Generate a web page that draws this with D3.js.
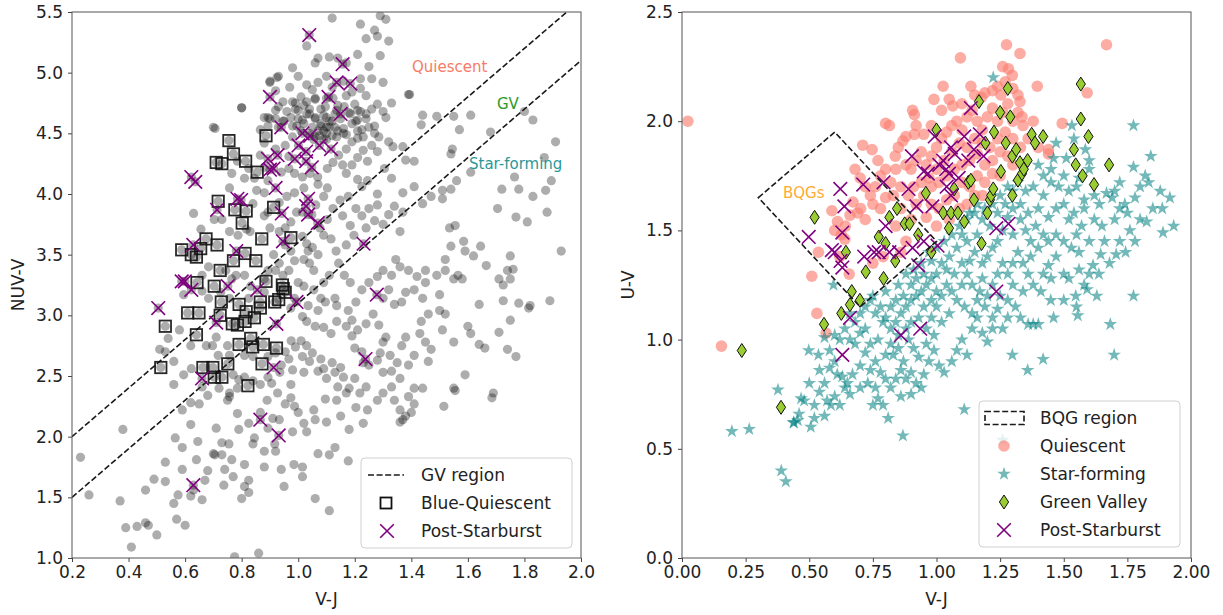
<!DOCTYPE html>
<html><head><meta charset="utf-8">
<script src="https://cdn.jsdelivr.net/npm/d3@7"></script>
<style>
body{margin:0;background:#fff;}
text{font-family:"DejaVu Sans",sans-serif;}
</style>
</head><body>
<svg id="chart" width="1223" height="615"></svg>
<script>
// ---------------- DATA ----------------
const leftXTicks = [0.2,0.4,0.6,0.8,1.0,1.2,1.4,1.6,1.8,2.0];
const leftYTicks = [1.0,1.5,2.0,2.5,3.0,3.5,4.0,4.5,5.0,5.5];
const rightXTicks = [0,0.25,0.5,0.75,1.0,1.25,1.5,1.75,2.0];
const rightYTicks = [0,0.5,1.0,1.5,2.0,2.5];

// GV region boundaries: NUV-V = slope*(V-J) + intercept
const gvSlope = 2.0;
const gvIntercepts = [1.6, 1.1];
// BQG region polygon (V-J, U-V)
const bqgRegion = [[0.3,1.65],[0.6,1.95],[1.0,1.45],[0.7,1.15]];

// Left panel: full sample (gray)
const leftGray = [
[1.12,5.45],[1.22,5.40],[1.29,5.47],[1.31,5.44],[1.27,5.35],[1.28,5.30],[1.24,5.28],[1.32,5.26],[1.03,5.22],[1.21,5.15],[1.29,5.14],[1.11,5.13],[1.07,5.12],[1.06,5.08],[1.17,5.08],[1.14,5.12],[0.98,5.04],[1.25,5.05],[1.00,4.97],[0.93,4.97],[0.90,4.93],[1.03,4.90],[1.07,4.92],[1.10,4.97],[1.16,4.93],[1.22,4.95],[1.26,4.95],[1.30,4.92],[1.39,4.82],[1.22,4.87],[1.19,4.84],[1.12,4.88],
[0.80,4.71],[0.88,4.63],[0.90,4.62],[0.93,4.72],[0.96,4.68],[0.99,4.75],[1.02,4.73],[1.06,4.78],[1.10,4.79],[1.14,4.73],[1.17,4.81],[1.20,4.74],[1.24,4.81],[1.28,4.74],[1.33,4.75],[1.31,4.63],[1.24,4.62],[1.21,4.61],[1.25,4.55],[1.27,4.50],[0.92,4.85],[0.97,4.88],[1.01,4.80],[1.05,4.86],[1.08,4.70],[1.03,4.66],[1.06,4.62],[1.09,4.65],[1.11,4.60],[1.13,4.66],[1.15,4.62],[1.18,4.67],[1.19,4.58],[1.16,4.54],[1.13,4.55],[1.10,4.55],[1.08,4.58],[1.05,4.55],[1.02,4.58],[1.00,4.62],[0.98,4.56],[0.95,4.60],[0.93,4.55],[1.07,4.52],[1.10,4.50],[1.12,4.48],[1.09,4.45],[1.06,4.47],[1.04,4.50],[1.01,4.52],[1.14,4.52],[1.17,4.49],[1.21,4.52],[1.23,4.47],[0.99,4.70],[1.04,4.70],[1.22,4.68],[1.26,4.70],[1.30,4.68],
[0.23,1.83],[0.26,1.52],[0.37,1.47],[0.39,1.25],[0.38,2.06],[0.41,1.09],[0.43,1.26],[0.46,1.29],[0.47,1.27],[0.46,1.56],[0.49,1.65],[0.50,1.19],[0.53,1.79],[0.53,1.63],[0.56,1.45],[0.57,1.32],[0.60,1.27],[0.575,1.52],[0.565,1.99],[0.56,2.43],[0.51,2.72],[0.53,2.70],[0.54,2.81],[0.59,1.91],[0.59,2.22],[0.59,1.73],
[0.62,1.51],[0.63,1.56],[0.64,1.81],[0.645,1.96],[0.66,1.48],[0.67,1.64],[0.68,1.72],[0.70,1.86],[0.705,1.85],[0.71,2.07],[0.73,1.95],[0.737,1.60],[0.74,1.73],[0.755,1.94],[0.77,1.67],[0.775,1.01],[0.785,2.19],[0.80,1.49],[0.75,2.30],[0.65,2.27],[0.66,2.41],[0.62,2.28],[0.62,2.10],[0.68,2.34],[0.72,2.40],[0.79,2.06],[0.81,1.77],[0.825,1.64],[0.825,1.54],[0.81,1.59],[0.765,1.81],[0.73,1.85],
[0.84,1.94],[0.86,1.04],[0.866,2.20],[0.88,1.75],[0.89,2.30],[0.91,2.15],[0.917,1.94],[0.94,1.73],[0.95,1.59],[0.974,2.32],[0.98,2.04],[0.985,1.77],[1.015,1.75],[1.015,1.67],[0.927,2.36],[0.906,2.44],[0.866,2.43],[0.84,2.46],[0.79,2.47],[0.757,2.33],[0.954,2.27],[0.987,2.25],[1.0,2.20],[0.933,2.14],[0.893,2.07],[0.825,2.11],[0.845,1.99],[0.92,1.88],[0.88,1.88],
[1.02,2.11],[1.03,2.04],[1.055,2.22],[1.06,2.14],[1.07,1.86],[1.096,2.31],[1.10,2.12],[1.11,1.85],[1.13,1.91],[1.11,1.39],[1.06,1.49],[1.136,2.30],[1.15,2.17],[1.17,2.36],[1.177,1.80],[1.204,2.24],[1.218,2.36],[1.24,2.41],[1.245,2.22],[1.28,2.30],[1.30,2.36],[1.34,2.30],[1.37,2.14],[1.36,2.12],[1.40,2.20],[1.38,2.17],[1.23,2.11],[1.18,2.06],
[1.01,2.79],[0.99,2.74],[1.03,2.75],[1.05,2.69],[1.08,2.64],[1.09,2.56],[1.12,2.61],[1.13,2.53],[1.15,2.57],[1.16,2.49],[1.18,2.40],[1.14,2.41],[1.10,2.48],[1.07,2.54],[1.04,2.62],[1.015,2.66],[0.975,2.79],[0.967,2.64],[0.98,2.55],[1.02,2.53],[0.935,2.53],[0.974,2.43],[1.20,2.48],[1.20,2.73],[1.225,2.70],[1.25,2.59],[1.28,2.63],[1.29,2.69],[1.30,2.78],[1.31,2.82],[1.325,2.67],[1.30,2.53],[1.33,2.54],[1.35,2.61],[1.366,2.75],[1.38,2.82],[1.41,2.67],[1.39,2.59],[1.36,2.48],[1.41,2.40],[1.33,2.41],[1.23,2.61],
[1.19,2.83],[1.21,2.88],[1.24,2.93],[1.265,3.01],[1.285,2.92],[1.19,2.96],[1.17,2.91],[1.136,2.95],[1.116,2.85],[1.09,2.90],[1.06,2.91],[1.03,2.95],[1.015,2.99],[1.07,3.04],[1.096,3.11],[1.136,3.08],[1.177,3.04],[1.204,3.11],[1.225,3.21],[1.25,3.27],[1.28,3.32],[1.30,3.37],[1.33,3.33],[1.32,3.21],[1.30,3.14],[1.34,3.09],[1.366,3.11],[1.38,3.19],[1.345,3.46],[1.36,3.40],[1.39,3.37],[1.41,3.21],[1.42,3.32],[1.45,3.37],[1.45,3.27],[1.44,3.14],[1.46,3.01],[1.435,2.95],[1.43,2.85],[1.45,2.78],[1.47,2.72],[1.46,2.62],[1.50,3.17],[1.50,3.04],[1.51,2.88],[1.52,3.01],[1.49,3.33],[1.52,3.37],[1.52,3.46],[1.535,3.72],[1.555,3.74],[1.585,3.61],[1.59,3.53],[1.54,3.57],[1.645,3.57],[1.665,3.41],[1.62,3.49],[1.565,3.33],[1.55,3.30],[1.58,3.30],[1.64,3.09],[1.60,2.91],[1.61,2.85],[1.55,2.78],[1.64,2.76],[1.66,2.73],[1.71,2.86],[1.725,3.12],[1.75,2.96],[1.71,3.30],[1.725,3.25],[1.75,3.30],[1.76,3.38],[1.74,3.37],[1.75,3.49],[1.78,3.10],[1.82,3.08],[1.815,3.06],[1.77,2.66],[1.74,2.72],[1.89,3.12],[1.93,3.53],[1.59,2.51],[1.55,2.40],[1.555,2.38],[1.515,2.25],[1.69,2.36],[1.685,2.32],[1.44,2.40],[1.39,2.33],[1.41,2.27],[1.36,2.22],
[1.394,4.82],[1.44,4.65],[1.49,4.64],[1.55,4.64],[1.61,4.65],[1.435,4.57],[1.57,4.53],[1.68,4.51],[1.80,4.68],[1.83,4.61],[1.91,4.43],[1.54,4.33],[1.545,4.37],[1.56,4.11],[1.61,4.18],[1.51,4.03],[1.54,4.04],[1.51,3.96],[1.47,3.98],[1.44,3.92],[1.41,4.06],[1.37,4.01],[1.37,3.85],[1.36,3.69],[1.34,3.90],[1.32,3.83],[1.30,3.75],[1.28,3.91],[1.32,4.43],[1.335,4.39],[1.37,4.39],[1.38,4.28],[1.41,4.27],[1.305,4.21],[1.33,4.13],[1.245,4.27],[1.245,4.11],[1.225,4.06],[1.21,4.12],[1.28,4.00],[1.27,3.78],[1.25,3.88],[1.24,3.72],[1.705,3.88],[1.72,4.04],[1.765,4.14],[1.78,4.04],[1.83,3.98],[1.875,4.03],[1.88,3.85],[1.77,3.81],[1.81,3.77],[1.87,4.30],[1.895,4.11],
[1.015,3.65],[1.03,3.59],[1.05,3.56],[1.035,3.53],[1.02,3.46],[1.04,3.43],[1.055,3.37],[1.07,3.50],[1.09,3.66],[1.077,3.72],[1.103,3.79],[1.116,3.63],[1.134,3.53],[1.143,3.43],[1.163,3.33],[1.184,3.27],[1.17,3.58],[1.197,3.66],[1.184,3.74],[1.157,3.82],[1.123,3.88],[1.148,3.95],[1.177,3.98],[1.204,3.88],[1.225,3.82],[0.974,3.53],[0.987,3.45],[1.0,3.27],[1.02,3.24],[1.055,3.21],[1.09,3.27],[1.11,3.33],[1.13,3.14],[1.08,3.14],[1.035,3.08],[0.987,3.14],[0.974,3.06],[0.967,3.37],[0.946,3.33],[0.92,3.37],[0.893,3.37],[0.88,3.30],[0.913,3.50],[0.933,3.43],[0.954,3.58],[0.974,3.77],[0.954,3.72],[0.933,3.69],[0.994,3.85],[1.015,3.85],[1.048,3.83],[1.062,3.91],[1.09,3.98],[1.103,4.05],[1.07,4.08],[1.02,4.05],[0.987,4.01],[0.96,3.98],[0.933,3.93],[0.893,3.85],[0.88,3.82],[0.90,3.72],[0.83,3.69],[0.817,3.71],[0.84,3.92],[0.853,4.03],[0.88,4.01],[0.893,4.11],[0.845,4.13],[0.825,4.21],[0.81,4.13],[0.866,4.32],[0.88,4.22],[0.92,4.37],[0.954,4.40],[0.98,4.47],[0.967,4.31],[0.94,4.18],[0.967,4.21],[0.987,4.17],[1.015,4.14],[1.042,4.17],[1.069,4.14],[1.103,4.21],[1.123,4.26],[1.143,4.32],[1.157,4.24],[1.17,4.17],[1.19,4.24],[1.21,4.30],[1.17,4.37],[1.19,4.43],[1.21,4.46],[1.16,4.50],[1.136,4.47],[1.10,4.45],[1.08,4.56],[1.10,4.63],[1.12,4.60],[1.11,4.55],[1.09,4.52],[1.075,4.48],[1.055,4.45],[1.06,4.63],[1.04,4.66],[1.015,4.61],[0.995,4.56],[0.974,4.63],[0.946,4.60],[0.92,4.62],[0.893,4.56],[0.866,4.53],[1.136,4.69],[1.163,4.72],[1.184,4.66],[1.204,4.60],[1.225,4.53],[1.24,4.66],[1.21,4.69],[1.27,4.56],[1.285,4.47],[1.26,4.40],[1.28,4.35],[1.23,4.36],[0.98,4.76],[1.0,4.69],[1.03,4.76],[1.06,4.79],[1.096,4.72],[1.123,4.79],[0.946,4.76],[0.92,4.69],[0.893,4.63],[0.88,4.42],
[0.70,4.55],[0.80,4.71],[0.785,4.27],[0.765,4.17],[0.757,4.05],[0.73,3.79],[0.703,3.79],[0.757,3.69],[0.787,3.66],[0.656,3.71],[0.63,3.84],[0.744,3.37],[0.765,3.30],[0.78,3.33],[0.683,3.40],[0.66,3.33],[0.595,3.17],[0.66,3.20],[0.683,3.14],[0.726,3.19],[0.757,3.14],[0.825,3.14],[0.832,3.24],[0.81,3.33],[0.88,3.19],[0.58,2.88],[0.62,2.75],[0.675,2.75],[0.71,2.82],[0.697,2.75],[0.75,2.75],[0.757,2.67],[0.717,2.67],[0.81,2.67],[0.84,2.66],[0.893,2.66],[0.92,2.69],[0.954,2.70],[0.56,2.62],[0.595,2.51],[0.622,2.56],[0.77,2.51],[0.81,2.49],[0.785,2.40],[0.757,2.36],[0.893,2.49],[0.94,2.59],[0.706,4.54],[0.90,4.92],[0.925,4.96]
];

// Left panel: Blue-Quiescent galaxies
const blueQuiescent = [
[0.755,4.44],[0.886,4.48],[0.771,4.33],[0.710,4.26],[0.730,4.25],[0.814,4.27],[0.855,4.18],[0.717,3.94],[0.776,3.87],[0.816,3.86],[0.802,3.76],[0.913,3.89],[0.974,3.64],[0.871,3.63],[0.674,3.63],[0.713,3.58],[0.588,3.54],[0.622,3.50],[0.640,3.48],[0.655,3.55],[0.812,3.51],[0.771,3.45],[0.850,3.45],[0.642,3.27],[0.724,3.37],[0.703,3.24],[0.886,3.28],[0.944,3.25],[0.954,3.19],[0.931,3.13],[0.947,3.22],[0.728,3.11],[0.791,3.09],[0.866,3.11],[0.609,3.02],[0.649,3.02],[0.724,3.00],[0.816,3.03],[0.866,3.06],[0.917,3.11],[0.845,2.98],[0.767,2.93],[0.785,2.92],[0.812,2.95],[0.530,2.91],[0.640,2.84],[0.791,2.76],[0.832,2.81],[0.839,2.74],[0.877,2.76],[0.923,2.73],[0.514,2.57],[0.663,2.57],[0.698,2.57],[0.751,2.60],[0.703,2.49],[0.730,2.49],[0.872,2.60],[0.822,2.42]
];

// Left panel: Post-Starburst galaxies
const psbLeft = [
[1.039,5.31],[1.157,5.07],[1.136,4.92],[1.184,4.91],[1.107,4.80],[0.900,4.80],[1.150,4.66],[0.940,4.55],[1.015,4.50],[1.042,4.48],[1.001,4.40],[1.075,4.40],[1.116,4.37],[1.028,4.35],[0.893,4.29],[0.927,4.32],[0.988,4.29],[1.028,4.27],[1.048,4.22],[0.913,4.21],[0.900,4.20],[0.622,4.14],[0.636,4.10],[0.920,4.05],[0.785,3.96],[0.798,3.95],[1.035,3.96],[1.028,3.90],[0.713,3.87],[0.942,3.84],[1.035,3.83],[1.069,3.76],[0.946,3.61],[1.231,3.59],[0.629,3.58],[0.781,3.53],[0.588,3.28],[0.599,3.28],[0.622,3.21],[0.751,3.24],[0.855,3.21],[1.278,3.17],[0.994,3.11],[0.505,3.06],[0.710,2.94],[0.923,2.93],[0.913,2.57],[1.238,2.64],[0.660,2.48],[0.866,2.14],[0.931,2.01],[0.629,1.60]
];

// Right panel: Quiescent
const quiescent = [
[0.023,2.00],[0.155,0.97],[0.51,1.29],[0.53,1.12],[0.566,1.03],[0.536,1.40],[0.589,1.59],[0.611,1.54],[0.642,1.52],[0.626,1.48],[0.657,1.30],[0.672,1.63],[0.702,1.60],[0.71,1.89],[0.747,1.87],[0.77,1.82],[0.80,1.99],[0.815,1.98],[0.838,1.84],[0.868,1.91],[0.906,2.05],[0.913,2.03],[0.92,1.98],[0.913,1.94],[0.95,1.94],[0.98,1.98],[1.026,2.16],[1.094,2.29],[1.064,2.07],[1.10,2.08],[1.135,2.16],[1.177,2.11],[1.19,2.13],[1.22,2.14],[1.253,2.12],[1.275,2.35],[1.283,2.24],[1.26,2.25],[1.328,2.31],[1.298,2.21],[1.32,2.12],[1.328,2.09],[1.336,2.02],[1.396,2.16],[1.44,1.87],[1.494,1.99],[1.592,2.13],[1.668,2.35],
[0.68,1.78],[0.70,1.74],[0.72,1.70],[0.74,1.66],[0.76,1.70],[0.78,1.75],[0.80,1.78],[0.82,1.72],[0.75,1.62],[0.78,1.60],[0.80,1.65],[0.83,1.66],[0.86,1.70],[0.69,1.58],[0.72,1.55],[0.66,1.57],[0.64,1.46],[0.60,1.50],[0.62,1.38],[0.75,1.35],[0.86,1.40],[0.79,1.38],[0.88,1.45],
[0.88,1.80],[0.90,1.78],[0.92,1.82],[0.94,1.86],[0.96,1.80],[0.98,1.84],[1.00,1.88],[1.02,1.92],[1.04,1.95],[1.06,1.98],[1.08,2.00],[1.10,1.96],[1.12,2.02],[1.14,2.05],[1.16,2.00],[1.18,1.96],[1.20,2.02],[1.22,2.06],[1.24,2.00],[1.26,2.04],[1.28,2.08],[1.30,2.00],[1.32,2.04],[1.34,1.98],[1.30,1.92],[1.27,1.95],[1.24,1.92],[1.21,1.88],[1.18,1.90],[1.15,1.92],[1.12,1.88],[1.09,1.90],[1.06,1.86],[1.03,1.82],[1.00,1.78],[0.97,1.74],[0.94,1.72],[0.91,1.70],[0.89,1.66],[0.92,1.62],[0.95,1.66],[0.98,1.70],[1.01,1.72],[1.04,1.75],[1.07,1.78],[1.10,1.80],[1.13,1.82],[1.16,1.85],[1.19,1.80],[1.22,1.82],[1.25,1.86],[1.28,1.84],[1.22,1.76],[1.19,1.72],[1.16,1.75],[1.13,1.70],[1.10,1.72],[1.07,1.66],[1.04,1.64],[1.01,1.60],[0.98,1.62],[0.96,1.56],[1.00,1.52],[1.05,1.55],[1.09,1.60],[1.12,1.62],[1.15,1.66],[1.18,1.66],[1.25,1.75],[1.30,1.80],[1.33,1.88],[1.36,1.92],[1.38,2.00],[1.02,2.05],[0.99,2.10],[1.05,2.10],[1.15,2.12],[1.24,2.16],[1.27,2.18],[1.30,2.15],[0.88,1.93],[0.85,1.88],[0.84,1.78],[0.86,1.60],[0.90,1.55],[0.84,1.52],[1.40,1.88],[1.44,1.85]
];

// Right panel: Star-forming
const starForming = [
[0.196,0.58],[0.264,0.59],[0.377,0.77],[0.39,0.40],[0.408,0.35],[0.438,0.62],[0.455,0.63],[0.468,0.73],[0.498,0.95],[0.506,0.60],[0.52,0.64],[0.536,0.93],[0.54,0.76],[0.56,0.80],[0.57,0.72],[0.585,0.70],[0.60,0.74],[0.58,0.87],[0.61,0.84],[0.63,0.83],[0.65,0.80],[0.67,0.84],[0.64,0.78],[0.56,1.01],[0.595,1.25],[0.62,1.00],[0.66,1.00],[0.68,0.98],[0.70,1.03],[0.72,0.94],[0.70,0.88],[0.74,0.86],[0.76,0.90],[0.78,0.85],[0.80,0.82],[0.82,0.78],[0.84,0.82],[0.86,0.86],[0.88,0.82],[0.90,0.85],[0.92,0.80],[0.95,0.84],[0.97,0.90],[0.77,0.73],[0.79,0.70],[0.81,0.64],[0.75,0.70],[0.868,0.56],[0.87,0.90],[0.83,0.93],[0.85,0.96],[0.89,1.00],[0.91,0.96],[0.93,0.92],[0.96,0.98],[0.99,0.95],[1.01,0.88],[1.03,0.85],[1.06,0.90],[1.08,0.95],[1.10,1.00],[1.109,0.68],[1.12,0.93],[1.14,1.05],[1.16,1.10],[1.18,1.03],[1.20,0.99],[1.22,1.10],[1.24,1.14],[1.298,0.93],[1.26,0.54],[1.358,0.86],[1.419,0.91],[1.36,1.07],[1.38,1.07],[1.40,1.07],[1.449,1.18],[1.547,1.20],[1.555,1.11],[1.592,1.23],[1.638,1.30],[1.615,1.34],[1.645,1.39],[1.683,1.07],[1.698,0.93],[1.774,1.20],[1.706,1.39],[1.743,1.40],[1.78,1.45],[1.826,1.54],[1.89,1.49],[1.932,1.52],[1.917,1.65],[1.879,1.68],[1.887,1.60],[1.842,1.84],[1.774,1.98],[1.834,1.72],[1.774,1.79],[1.72,1.72],[1.668,1.67],[1.69,1.65],[1.72,1.60],[1.74,1.62],[1.62,1.66],[1.58,1.64],[1.532,1.98],[1.585,1.87],[1.51,1.83],[1.46,1.83],[1.223,2.20],[1.60,1.78],[1.56,1.74],[1.52,1.68],[1.50,1.62],[1.54,1.58],[1.48,1.70],[1.45,1.72],[1.42,1.66],[1.40,1.60],[1.44,1.56],[1.47,1.48],[1.50,1.45],[1.53,1.42],[1.56,1.40],[1.60,1.45],[1.65,1.52],[1.70,1.55],[1.75,1.58],[1.78,1.65],[1.80,1.70],[1.82,1.75],[1.66,1.45],[1.57,1.52],[1.47,1.38],[1.44,1.34],[1.42,1.30],[1.45,1.28],[1.50,1.30],[1.40,1.42],[1.37,1.45],[1.35,1.50],[1.33,1.55],[1.30,1.60],[1.28,1.56],[1.26,1.50],[1.24,1.45],[1.22,1.42],[1.20,1.38],[1.18,1.35],[1.15,1.40],[1.12,1.45],[1.10,1.48],[1.08,1.42],[1.05,1.38],[1.02,1.35],[1.00,1.30],[0.98,1.28],[0.96,1.25],[0.94,1.22],[0.92,1.20],[0.90,1.18],[0.88,1.15],[0.86,1.12],[0.84,1.08],[0.82,1.05],[0.80,1.10],[0.78,1.15],[0.76,1.12],[0.74,1.18],[0.72,1.15],[0.70,1.12],[0.75,1.20],[0.80,1.22],[0.85,1.25],[0.88,1.30],[0.91,1.32],[0.94,1.35],[0.97,1.40],[1.00,1.42],[1.03,1.45],[1.06,1.48],[1.09,1.52],[1.12,1.55],[1.15,1.58],[1.18,1.55],[1.21,1.52],[1.24,1.58],[1.27,1.62],[1.30,1.68],[1.33,1.62],[1.36,1.58],[1.39,1.52],[1.42,1.48],[1.30,1.48],[1.32,1.40],[1.34,1.35],[1.36,1.30],[1.38,1.25],[1.34,1.22],[1.30,1.25],[1.28,1.30],[1.26,1.35],[1.24,1.30],[1.22,1.25],[1.20,1.20],[1.17,1.22],[1.14,1.25],[1.12,1.30],[1.10,1.35],[1.07,1.30],[1.04,1.25],[1.02,1.20],[1.00,1.15],[0.98,1.10],[0.96,1.05],[0.99,1.02],[1.02,1.08],[1.05,1.12],[1.08,1.18],[1.11,1.15],[1.14,1.12],[1.16,1.18],[1.19,1.15],[1.22,1.05],[1.25,1.20],[1.28,1.18],[1.31,1.15],[1.33,1.10],[1.28,1.10],[1.26,1.05],[1.30,1.35],[1.37,1.38],[1.41,1.22],[1.44,1.45],[1.47,1.60],[1.52,1.55],[1.55,1.48],[1.58,1.60],[1.62,1.55],[1.63,1.20],[1.58,1.25],[1.52,1.28],[1.56,1.32],[1.18,1.28],[1.16,1.48],[1.13,1.36],[1.10,1.25],[1.06,1.22],[1.04,1.32],[0.98,1.36],[0.95,1.30],[0.92,1.28],[0.90,1.25],[0.87,1.20],[0.84,1.18],[0.82,1.15],[0.79,1.08],[0.77,1.00],[0.74,0.98],[0.72,1.05],[0.68,1.08],[0.66,1.12],[0.60,1.02],[0.64,1.05],[0.58,0.95],[0.60,0.90],[0.54,0.86],[0.50,0.80],[0.48,0.72],[0.46,0.66],[0.44,0.62],[0.52,0.70],[0.56,0.65],[0.62,0.70],[0.66,0.75],[0.70,0.78],[0.73,0.80],[0.76,0.78],[0.86,0.74],[0.90,0.75],[0.94,0.78],[0.80,0.93],[0.82,0.98],[0.85,1.02],[0.88,1.05],[0.90,1.08],[0.93,1.10],[0.95,1.15],[0.98,1.18],[1.00,1.22],[1.46,1.10],[1.50,1.18],[1.55,1.15],[1.60,1.30],[1.68,1.35],[1.72,1.45],[1.76,1.50],[1.80,1.55],[1.85,1.60],[1.70,1.68],[1.64,1.62],[1.55,1.70],[1.50,1.75],[1.45,1.78],[1.42,1.75],[1.38,1.70],[1.35,1.68],[1.40,1.80],[1.47,1.90],[1.54,1.92],[1.60,1.82],[1.32,1.72],[1.28,1.70],[1.25,1.66],[1.22,1.62],[1.19,1.60],[1.16,1.62],[1.13,1.58]
];

// Right panel: Green Valley
const greenValley = [
[0.235,0.95],[0.389,0.69],[0.521,1.56],[0.558,1.07],[0.626,1.12],[0.644,1.40],[0.66,1.16],[0.667,1.22],[0.699,1.18],[0.722,1.31],[0.773,1.47],[0.792,1.28],[0.80,1.44],[0.815,1.56],[0.845,1.60],[0.838,1.36],[0.875,1.53],[0.894,1.53],[0.928,1.48],[0.958,1.67],[0.98,1.40],[1.0,1.96],[1.026,1.58],[1.049,1.51],[1.057,1.58],[1.069,1.69],[1.084,1.58],[1.109,1.54],[1.125,1.72],[1.135,1.73],[1.147,1.64],[1.167,2.09],[1.177,1.44],[1.192,1.90],[1.20,1.58],[1.21,1.64],[1.215,1.66],[1.223,1.69],[1.226,1.95],[1.25,2.04],[1.253,1.77],[1.272,1.90],[1.28,2.15],[1.29,2.02],[1.298,1.84],[1.298,1.66],[1.313,1.87],[1.32,1.73],[1.328,1.81],[1.336,1.76],[1.343,1.78],[1.358,1.82],[1.374,1.94],[1.387,1.90],[1.419,1.93],[1.54,1.87],[1.547,1.80],[1.567,2.17],[1.567,2.01],[1.574,1.75],[1.597,1.93],[1.619,1.71],[1.678,1.80]
];

// Right panel: Post-Starburst
const psbRight = [
[0.498,1.47],[0.589,1.41],[0.60,1.40],[0.622,1.69],[0.638,1.61],[0.63,1.49],[0.623,1.36],[0.63,1.33],[0.63,0.93],[0.66,1.10],[0.712,1.71],[0.716,1.38],[0.755,1.40],[0.773,1.40],[0.792,1.72],[0.80,1.52],[0.815,1.40],[0.853,1.40],[0.86,1.02],[0.903,1.84],[0.906,1.42],[0.928,1.34],[0.936,1.05],[0.921,1.61],[0.89,1.69],[0.95,1.77],[0.966,1.76],[0.984,1.61],[0.95,1.45],[1.004,1.43],[0.993,1.93],[1.011,1.80],[1.026,1.82],[1.038,1.78],[1.049,1.76],[1.057,1.88],[1.072,1.85],[1.087,1.74],[1.109,1.93],[1.125,1.82],[1.135,2.06],[1.147,1.87],[1.17,1.94],[1.185,1.84],[1.235,1.22],[1.235,1.51],[1.283,1.53],[1.04,1.70],[1.057,1.66]
];

// ---------------- DRAW ----------------
const svg = d3.select("#chart");
svg.append("rect").attr("width",1223).attr("height",615).attr("fill","#fff");

const FONT = 17;
const DASH = "6,2.6";
const panels = {
  left:{x0:72,x1:581,y0:12,y1:558},
  right:{x0:682,x1:1191,y0:12,y1:558}
};

const xL = d3.scaleLinear().domain([0.2,2.0]).range([panels.left.x0,panels.left.x1]);
const yL = d3.scaleLinear().domain([1.0,5.5]).range([panels.left.y1,panels.left.y0]);
const xR = d3.scaleLinear().domain([0,2]).range([panels.right.x0,panels.right.x1]);
const yR = d3.scaleLinear().domain([0,2.5]).range([panels.right.y1,panels.right.y0]);

function clip(id,p){
  svg.append("clipPath").attr("id",id).append("rect")
    .attr("x",p.x0).attr("y",p.y0).attr("width",p.x1-p.x0).attr("height",p.y1-p.y0);
}
clip("clipL",panels.left); clip("clipR",panels.right);

function crossPath(cx,cy,s){return `M${cx-s},${cy-s}L${cx+s},${cy+s}M${cx-s},${cy+s}L${cx+s},${cy-s}`;}

// ----- Left panel -----
const gL = svg.append("g").attr("clip-path","url(#clipL)");
const allGray = leftGray.concat(blueQuiescent, psbLeft);
gL.selectAll("circle.g").data(allGray).join("circle")
  .attr("cx",d=>xL(d[0])).attr("cy",d=>yL(d[1])).attr("r",4.6)
  .attr("fill","#000").attr("fill-opacity",0.32);

// GV lines
gvIntercepts.forEach(b=>{
  const xs=[0.2,2.0];
  gL.append("path").attr("d",d3.line()(xs.map(x=>[xL(x),yL(gvSlope*x+b)])))
    .attr("stroke","#1a1a1a").attr("stroke-width",1.6).attr("stroke-dasharray",DASH).attr("fill","none");
});

gL.selectAll("rect.bq").data(blueQuiescent).join("rect")
  .attr("x",d=>xL(d[0])-5.7).attr("y",d=>yL(d[1])-5.7).attr("width",11.4).attr("height",11.4)
  .attr("fill","none").attr("stroke","#111").attr("stroke-width",1.8).attr("stroke-opacity",0.9);

gL.selectAll("path.psb").data(psbLeft).join("path")
  .attr("d",d=>crossPath(xL(d[0]),yL(d[1]),6.8))
  .attr("stroke","#800080").attr("stroke-width",1.6).attr("fill","none");

// ----- Right panel -----
const gR = svg.append("g").attr("clip-path","url(#clipR)");
gR.selectAll("circle.q").data(quiescent).join("circle")
  .attr("cx",d=>xR(d[0])).attr("cy",d=>yR(d[1])).attr("r",5.8)
  .attr("fill","#fa8072").attr("fill-opacity",0.65);

const star = d3.symbol().type(d3.symbolStar).size(58);
gR.selectAll("path.sf").data(starForming).join("path")
  .attr("d",star).attr("transform",d=>`translate(${xR(d[0])},${yR(d[1])})`)
  .attr("fill","#008080").attr("fill-opacity",0.55);

function diamond(cx,cy){return `M${cx},${cy-7}L${cx+4.6},${cy}L${cx},${cy+7}L${cx-4.6},${cy}Z`;}
gR.selectAll("path.gv").data(greenValley).join("path")
  .attr("d",d=>diamond(xR(d[0]),yR(d[1])))
  .attr("fill","#9acd32").attr("stroke","#111").attr("stroke-width",1);

gR.selectAll("path.psbR").data(psbRight).join("path")
  .attr("d",d=>crossPath(xR(d[0]),yR(d[1]),6.8))
  .attr("stroke","#800080").attr("stroke-width",1.6).attr("fill","none");

gR.append("path")
  .attr("d",d3.line()(bqgRegion.map(p=>[xR(p[0]),yR(p[1])]))+"Z")
  .attr("stroke","#1a1a1a").attr("stroke-width",1.6).attr("stroke-dasharray",DASH).attr("fill","none");

// ----- Axes -----
function drawAxes(p,xs,ys,xt,yt,xfmt,yfmt,xlabel,ylabel,ylabelX){
  const ax = svg.append("g").attr("transform",`translate(0,${p.y1})`)
    .call(d3.axisBottom(xs).tickValues(xt).tickFormat(d3.format(xfmt)).tickSizeOuter(0).tickSize(4).tickPadding(4));
  const ay = svg.append("g").attr("transform",`translate(${p.x0},0)`)
    .call(d3.axisLeft(ys).tickValues(yt).tickFormat(d3.format(yfmt)).tickSizeOuter(0).tickSize(4).tickPadding(5));
  [ax,ay].forEach(a=>{
    a.select(".domain").remove();
    a.selectAll("line").attr("stroke","#444");
    a.selectAll("text").attr("font-size",FONT).attr("fill","#222").attr("font-family","DejaVu Sans");
  });
  svg.append("rect").attr("x",p.x0).attr("y",p.y0).attr("width",p.x1-p.x0).attr("height",p.y1-p.y0)
    .attr("fill","none").attr("stroke","#555").attr("stroke-width",1);
  svg.append("text").attr("x",(p.x0+p.x1)/2).attr("y",605).attr("text-anchor","middle")
    .attr("font-size",FONT).attr("fill","#222").text(xlabel);
  svg.append("text").attr("transform",`translate(${ylabelX},${(p.y0+p.y1)/2}) rotate(-90)`)
    .attr("text-anchor","middle").attr("dy","0.35em").attr("font-size",FONT).attr("fill","#222").text(ylabel);
}
drawAxes(panels.left,xL,yL,leftXTicks,leftYTicks,".1f",".1f","V-J","NUV-V",18);
drawAxes(panels.right,xR,yR,rightXTicks,rightYTicks,".2f",".1f","V-J","U-V",628);

// ----- Annotations -----
function label(x,y,t,c,fs){svg.append("text").attr("x",x).attr("y",y).attr("dy","0.35em").attr("font-size",fs).attr("fill",c).text(t);}
label(412,67,"Quiescent","#f77b66",15);
label(497,104,"GV","#2a9a2a",15);
label(469,164,"Star-forming","#2a9898",15);
label(783,193,"BQGs","#ffaa33",15);

// ----- Legends -----
function legendBox(x,y,w,h){
  svg.append("rect").attr("x",x).attr("y",y).attr("width",w).attr("height",h).attr("rx",4)
    .attr("fill","#fff").attr("fill-opacity",0.8).attr("stroke","#d0d0d0").attr("stroke-width",1);
}
legendBox(361,458,211,90);
const legL = [
  {label:"GV region",type:"line",y:475},
  {label:"Blue-Quiescent",type:"square",y:503},
  {label:"Post-Starburst",type:"cross",y:531}
];
legL.forEach(e=>{
  if(e.type==="line") svg.append("line").attr("x1",368).attr("x2",404).attr("y1",e.y).attr("y2",e.y)
     .attr("stroke","#1a1a1a").attr("stroke-width",1.6).attr("stroke-dasharray",DASH);
  if(e.type==="square") svg.append("rect").attr("x",380.5).attr("y",e.y-5.5).attr("width",11).attr("height",11)
     .attr("fill","none").attr("stroke","#111").attr("stroke-width",1.8);
  if(e.type==="cross") svg.append("path").attr("d",crossPath(387,e.y,6.8)).attr("stroke","#800080").attr("stroke-width",1.6);
  svg.append("text").attr("x",421).attr("y",e.y).attr("dy","0.35em").attr("font-size",FONT).attr("fill","#222").text(e.label);
});

legendBox(979,401,201,146);
const legR = [
  {label:"BQG region",type:"rect",y:418},
  {label:"Quiescent",type:"circle",y:446},
  {label:"Star-forming",type:"star",y:474},
  {label:"Green Valley",type:"diamond",y:502},
  {label:"Post-Starburst",type:"cross",y:530}
];
legR.forEach(e=>{
  const mx=1004;
  if(e.type==="rect") svg.append("rect").attr("x",985).attr("y",e.y-6.5).attr("width",39).attr("height",13)
     .attr("fill","none").attr("stroke","#1a1a1a").attr("stroke-width",1.6).attr("stroke-dasharray",DASH);
  if(e.type==="circle") svg.append("circle").attr("cx",mx).attr("cy",e.y).attr("r",5.8).attr("fill","#fa8072").attr("fill-opacity",0.65);
  if(e.type==="star") svg.append("path").attr("d",star()).attr("transform",`translate(${mx},${e.y})`).attr("fill","#008080").attr("fill-opacity",0.55);
  if(e.type==="diamond") svg.append("path").attr("d",diamond(mx,e.y)).attr("fill","#9acd32").attr("stroke","#111").attr("stroke-width",1);
  if(e.type==="cross") svg.append("path").attr("d",crossPath(mx,e.y,6.8)).attr("stroke","#800080").attr("stroke-width",1.6);
  svg.append("text").attr("x",1040).attr("y",e.y).attr("dy","0.35em").attr("font-size",FONT).attr("fill","#222").text(e.label);
});
</script>
</body></html>
